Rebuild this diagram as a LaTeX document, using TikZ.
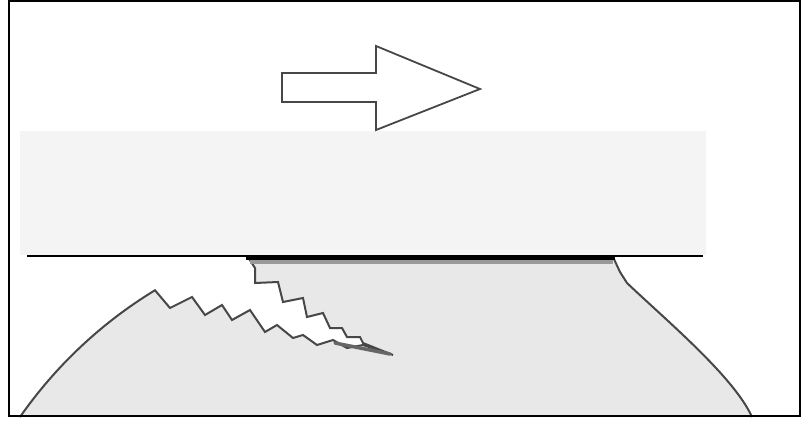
\documentclass[tikz,border=0pt]{standalone}
\begin{document}
\begin{tikzpicture}[x=1pt,y=-1pt,
  outline/.style={draw=black!72,line width=2pt,line join=miter},
  bodyfill/.style={fill=black!9},
  bandfill/.style={fill=black!4.5}]
\useasboundingbox (0,0) rectangle (801,423);
\fill[white] (0,0) rectangle (801,423);
% sliding upper part
\fill[bandfill] (20,131) rectangle (706,255);
% direction of motion
\draw[outline,fill=white,line width=1.8pt]
  (282,73) -- (376,73) -- (376,46) -- (480,89) -- (376,130) -- (376,102) -- (282,102) -- cycle;
% lower body with a crack running in from the contact edge
\path[bodyfill]
  (20,417) arc[start angle=-145.1,end angle=-121.3,radius=449]
  -- (170,308) -- (192,297) -- (205,315) -- (222,305) -- (232,320) -- (250,310)
  -- (265,332) -- (277,325) -- (293,338) -- (303,335) -- (317,345) -- (333,340)
  -- (347,348) -- (363,345) -- (393,355)
  -- (363,343) -- (360,337) -- (347,337) -- (342,328) -- (330,328) -- (323,313)
  -- (307,317) -- (303,298) -- (283,302) -- (278,282) -- (255,283) -- (255,268)
  -- (248,257) -- (613,257) -- (620,272) -- (627,283)
  .. controls (667,321) and (734,377) .. (752,417) -- cycle;
% outline of the body
\draw[outline]
  (20,417) arc[start angle=-145.1,end angle=-121.3,radius=449]
  -- (170,308) -- (192,297) -- (205,315) -- (222,305) -- (232,320) -- (250,310)
  -- (265,332) -- (277,325) -- (293,338) -- (303,335) -- (317,345) -- (333,340)
  -- (347,348) -- (363,345) -- (393,355)
  -- (363,343) -- (360,337) -- (347,337) -- (342,328) -- (330,328) -- (323,313)
  -- (307,317) -- (303,298) -- (283,302) -- (278,282) -- (255,283) -- (255,268)
  -- (248,257);
\draw[outline] (613,257) -- (620,272) -- (627,283)
  .. controls (667,321) and (734,377) .. (752,417);
% darker wedge at the crack tip
\draw[black!60,line width=3.5pt,line cap=round] (335,343) -- (390,354);
% shadow below the contact
\fill[black!40] (250,259) rectangle (613,264);
% interface line and contact zone
\draw[black,line width=2.8pt] (27,256) -- (703,256);
\draw[black,line width=5pt] (246,257) -- (615,257);
% frame
\draw[black,line width=2pt] (9,1) rectangle (800,416);
\end{tikzpicture}
\end{document}
